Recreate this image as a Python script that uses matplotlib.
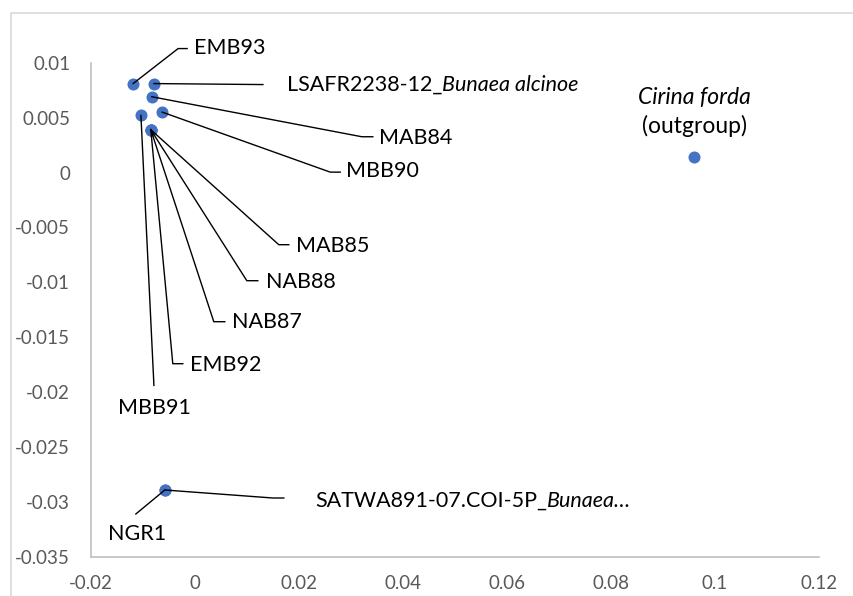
import numpy as np
import matplotlib
matplotlib.use("Agg")
import matplotlib.pyplot as plt
from matplotlib.lines import Line2D
from matplotlib.ticker import FuncFormatter, MultipleLocator

plt.rcParams['font.family'] = ['Lato', 'DejaVu Sans']

# sample coordinates
x_vals = [-0.0119, -0.0079, -0.0083, -0.0063, -0.0104,
          -0.0085, -0.0085, -0.0085, -0.0085,
          -0.0058, -0.0058, 0.0960]
y_vals = [0.0081, 0.0081, 0.0069, 0.0055, 0.0052,
          0.0039, 0.0039, 0.0039, 0.0039,
          -0.0289, -0.0289, 0.0014]
# label: (plain part, italic part)
labels = [("EMB93", ""), ("LSAFR2238-12_", "Bunaea alcinoe"), ("MAB84", ""),
          ("MBB90", ""), ("MBB91", ""), ("MAB85", ""), ("NAB88", ""),
          ("NAB87", ""), ("EMB92", ""), ("SATWA891-07.COI-5P_", "Bunaea\u2026"),
          ("NGR1", ""), ("", "Cirina forda")]

x_lim = (-0.02, 0.12)
y_lim = (-0.035, 0.01)

# layout of leader lines, pixels relative to the point (x right, y down)
# leader: list of vertices, text: (dx, dy, ha)
leaders = [
    [(45, -35), (54, -35)],
    [(109, 1)],
    [(210, 40), (221, 40)],
    [(168, 60), (178, 60)],
    [(13, 270)],
    [(128, 115), (138, 115)],
    [(96, 151), (107, 151)],
    [(63, 192), (74, 192)],
    [(22, 234), (32, 234)],
    [(108, 8), (119, 8)],
    [(-29, 24)],
    [],
]
text_pos = [(61, -36, 'left'), (133, 1, 'left'), (227, 41, 'left'),
            (184, 59, 'left'), (14, 293, 'center'), (145, 116, 'left'),
            (115, 152, 'left'), (81, 192, 'left'), (39, 235, 'left'),
            (150, 11, 'left'), (-28, 44, 'center'), (0, -60, 'center')]

W, H = 854, 596
fig = plt.figure(figsize=(W / 100, H / 100), dpi=100)
ax = fig.add_axes([91 / W, 39 / H, 728 / W, 494.3 / H])

ax.scatter(x_vals, y_vals, s=75, color='#4472C4', zorder=3, linewidths=0)

ax.set_xlim(*x_lim)
ax.set_ylim(*y_lim)
ax.xaxis.set_major_locator(MultipleLocator(0.02))
ax.yaxis.set_major_locator(MultipleLocator(0.005))
fmt = FuncFormatter(lambda v, p: '%g' % round(v, 6))
ax.xaxis.set_major_formatter(fmt)
ax.yaxis.set_major_formatter(fmt)
ax.tick_params(length=0, labelsize=13.5, labelcolor='#595959')
ax.tick_params(axis='x', pad=13)
ax.tick_params(axis='y', pad=15)
for s in ['top', 'right']:
    ax.spines[s].set_visible(False)
for s in ['left', 'bottom']:
    ax.spines[s].set_color('#bfbfbf')
    ax.spines[s].set_linewidth(1.2)

fs = 15.5
fig.canvas.draw()
for i in range(len(x_vals)):
    px, py = ax.transData.transform((x_vals[i], y_vals[i]))
    verts = [(px, py)] + [(px + dx, py - dy) for dx, dy in leaders[i]]
    if len(verts) > 1:
        xs, ys = zip(*verts)
        fig.add_artist(Line2D(xs, ys, transform=None, color='black', lw=1.0, zorder=2))
    dx, dy, ha = text_pos[i]
    plain, ital = labels[i]
    tx, ty = (px + dx) / W, (py - dy) / H
    if plain:
        t1 = fig.text(tx, ty, plain, fontsize=fs, ha=ha, va='center', color='black')
        if ital:
            ax.annotate(ital, xy=(1, 0), xycoords=t1, ha='left', va='bottom',
                        fontsize=fs, style='italic', color='black')
    else:
        fig.text(tx, ty, ital, fontsize=fs + 1, ha=ha, va='center', style='italic', color='black')
        fig.text(tx, ty - 29 / H, "(outgroup)", fontsize=fs + 1, ha=ha, va='center', color='black')

# chart border (only left/top visible in the crop)
fig.add_artist(Line2D([11, 11, W + 5], [-5, H - 13, H - 13], transform=None,
                      color='#d9d9d9', lw=1.2))

fig.savefig('out.png', dpi=100)
